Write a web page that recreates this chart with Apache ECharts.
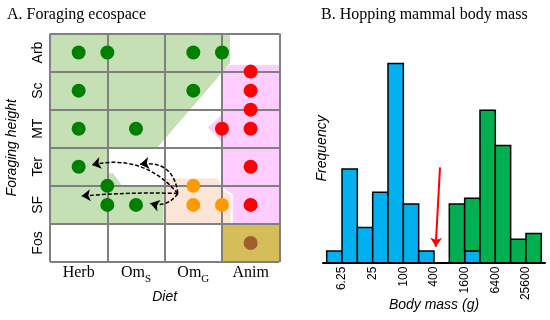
<!DOCTYPE html>
<html><head><meta charset="utf-8">
<script src="https://cdn.jsdelivr.net/npm/echarts@6/dist/echarts.min.js"></script>
<style>html,body{margin:0;padding:0;background:#fff}#c{width:550px;height:320px}</style>
</head><body><div id="c"></div>
<script>
// ---------- Panel A: foraging ecospace ----------
const dietLabels = ['{n|Herb}', '{n|Om}{s|S}', '{n|Om}{s|G}', '{n|Anim}'];
const heightLabels = ['Fos', 'SF', 'Ter', 'MT', 'Sc', 'Arb'];
const greenDots = [[0.5,5.5],[1.0,5.5],[2.5,5.5],[3.0,5.5],[0.5,4.5],[2.5,4.5],[0.5,3.5],[1.5,3.5],[0.5,2.5],[1.0,2.0],[1.0,1.5],[1.5,1.5]];
const redDots = [[3.5,5.0],[3.5,4.5],[3.5,4.0],[3.0,3.5],[3.5,3.5],[3.5,2.5],[3.5,1.5]];
const orangeDots = [[2.5,2.0],[2.5,1.5],[3.0,1.5]];
const brownDots = [[3.5,0.5]];
const greenZone = [[0,6],[3.14,6],[3.14,5.22],[1.87,3.0],[1.0,3.0],[1.0,2.33],[1.10,2.33],[1.26,2.0],[2.0,2.0],[2.0,1.0],[0,1.0]];
const pinkZone = [[3.14,5.17],[4,5.17],[4,1.0],[3.0,1.0],[3.0,3.16],[2.76,3.53],[3.0,3.87],[3.0,5.0]];
const peachZone = [[2.0,2.22],[2.94,2.22],[3.0,2.0],[3.0,1.94],[3.17,1.76],[3.17,1.0],[2.0,1.0]];
const fossZone = [[3,1],[4,1],[4,0],[3,0]];
const arrowStart = [2.23, 1.80];
const arrowEnds = [[0.73,2.55],[1.57,2.57],[0.55,1.73],[1.75,1.54]];
const arrowCurve = [-0.3, -0.5, -0.03, 0.35];

// ---------- Panel B: hopping mammal body mass ----------
const binEdges = [3.125, 6.25, 12.5, 25, 50, 100, 200, 400, 800, 1600, 3200, 6400, 12800, 25600, 51200];
const blueCounts = [2, 16, 6, 12, 34, 10, 2, 0, 0, 2, 0, 0, 0, 0];
const greenCounts = [0, 0, 0, 0, 0, 0, 0, 0, 10, 9, 26, 20, 4, 5];
const tickValues = [6.25, 25, 100, 400, 1600, 6400, 25600];
const tickLabels = ['6.25', '25', '100', '400', '1600', '6400', '25600'];
const redArrow = [[9.035, 16.27], [8.754, 2.73]];

const SANS = 'Liberation Sans', SERIF = 'Liberation Serif';
const GRIDLINE = '#808080';

function zoneSeries(points, fill, stroke) {
  return {
    type: 'custom', xAxisIndex: 0, yAxisIndex: 0, z: 1, silent: true,
    data: points,
    renderItem: function (params, api) {
      if (params.dataIndex !== 0) return;
      const pts = points.map(p => api.coord(p));
      return { type: 'polygon', shape: { points: pts },
        style: { fill: fill, stroke: stroke || 'none', lineWidth: stroke ? 2 : 0 } };
    }
  };
}

const blueData = [], greenData = [];
for (let i = 0; i < blueCounts.length; i++) {
  const a = Math.log2(binEdges[i]), b = Math.log2(binEdges[i + 1]);
  blueData.push([a, b, 0, blueCounts[i]]);
  greenData.push([a, b, blueCounts[i], blueCounts[i] + greenCounts[i]]);
}
function barSeries(data, fill) {
  return {
    type: 'custom', xAxisIndex: 1, yAxisIndex: 1, z: 3, silent: true,
    data: data,
    renderItem: function (params, api) {
      const base = api.value(2), top = api.value(3);
      if (top <= base) return;
      const p0 = api.coord([api.value(0), top]);
      const p1 = api.coord([api.value(1), base]);
      return { type: 'rect', shape: { x: p0[0], y: p0[1], width: p1[0] - p0[0], height: p1[1] - p0[1] },
        style: { fill: fill, stroke: '#000', lineWidth: 1.5 } };
    }
  };
}

const chart = echarts.init(document.getElementById('c'), null, { renderer: 'canvas' });
chart.setOption({
  animation: false,
  backgroundColor: '#fff',
  title: [
    { text: 'A. Foraging ecospace', left: 7, top: 7, padding: 0,
      textStyle: { fontFamily: SERIF, fontSize: 16, fontWeight: 'normal', color: '#000' } },
    { text: 'B. Hopping mammal body mass', left: 321, top: 7, padding: 0,
      textStyle: { fontFamily: SERIF, fontSize: 16, fontWeight: 'normal', color: '#000' } }
  ],
  grid: [
    { left: 50, top: 33.5, width: 229.3, height: 228.5, outerBoundsMode: 'none' },
    { left: 323, top: 51.7, width: 222, height: 211, outerBoundsMode: 'none' }
  ],
  xAxis: [
    { type: 'value', gridIndex: 0, min: 0, max: 4, interval: 1, z: 3,
      axisLine: { show: false }, axisTick: { show: false },
      splitLine: { show: true, showMinLine: true, showMaxLine: true, lineStyle: { color: GRIDLINE, width: 2 } },
      axisLabel: { customValues: [0.5, 1.5, 2.5, 3.5], margin: 3,
        formatter: v => dietLabels[Math.floor(v)],
        rich: {
          n: { fontFamily: SERIF, fontSize: 16, color: '#000', lineHeight: 20, verticalAlign: 'top' },
          s: { fontFamily: SERIF, fontSize: 11, color: '#000', lineHeight: 11, verticalAlign: 'bottom' }
        } },
      name: 'Diet', nameLocation: 'middle', nameGap: 27,
      nameTextStyle: { fontFamily: SANS, fontStyle: 'italic', fontSize: 14, color: '#000' } },
    { type: 'value', gridIndex: 1, min: 1.403, max: 15.885, z: 3,
      axisLine: { show: true, lineStyle: { color: '#000', width: 2 } },
      axisTick: { show: false }, splitLine: { show: false },
      axisLabel: { customValues: tickValues.map(v => Math.log2(v)), rotate: 90, margin: 4,
        fontFamily: SANS, fontSize: 12, color: '#000',
        formatter: v => tickLabels[tickValues.findIndex(t => Math.abs(Math.log2(t) - v) < 1e-6)] },
      name: 'Body mass (g)', nameLocation: 'middle', nameGap: 35, nameMoveOverlap: false,
      nameTextStyle: { fontFamily: SANS, fontStyle: 'italic', fontSize: 14, color: '#000' } }
  ],
  yAxis: [
    { type: 'value', gridIndex: 0, min: 0, max: 6, interval: 1, z: 3,
      axisLine: { show: false }, axisTick: { show: false },
      splitLine: { show: true, showMinLine: true, showMaxLine: true, lineStyle: { color: GRIDLINE, width: 2 } },
      axisLabel: { customValues: [0.5, 1.5, 2.5, 3.5, 4.5, 5.5], rotate: 90, margin: 5,
        fontFamily: SANS, fontSize: 14, color: '#000',
        formatter: v => heightLabels[Math.floor(v)] },
      name: 'Foraging height', nameLocation: 'middle', nameGap: 31,
      nameTextStyle: { fontFamily: SANS, fontStyle: 'italic', fontSize: 14, color: '#000' } },
    { type: 'value', gridIndex: 1, min: 0, max: 36, show: false }
  ],
  graphic: [
    { type: 'text', x: 321.7, y: 148.4, rotation: Math.PI / 2,
      style: { text: 'Frequency', fontFamily: SANS, fontStyle: 'italic', fontSize: 14, fill: '#000',
        align: 'center', verticalAlign: 'middle' } }
  ],
  series: [
    zoneSeries(greenZone, '#C5E0B4'),
    zoneSeries(pinkZone, '#FFCCFF'),
    zoneSeries(peachZone, '#FBE5D6', '#FFFFFF'),
    zoneSeries(fossZone, '#D5BD5A'),
    { type: 'scatter', xAxisIndex: 0, yAxisIndex: 0, z: 5, symbolSize: 14, data: greenDots, itemStyle: { color: '#008000', opacity: 1 } },
    { type: 'scatter', xAxisIndex: 0, yAxisIndex: 0, z: 5, symbolSize: 14, data: redDots, itemStyle: { color: '#FF0000', opacity: 1 } },
    { type: 'scatter', xAxisIndex: 0, yAxisIndex: 0, z: 5, symbolSize: 14, data: orangeDots, itemStyle: { color: '#FF9900', opacity: 1 } },
    { type: 'scatter', xAxisIndex: 0, yAxisIndex: 0, z: 5, symbolSize: 14, data: brownDots, itemStyle: { color: '#9E5F2C', opacity: 1 } },
    { type: 'lines', coordinateSystem: 'cartesian2d', xAxisIndex: 0, yAxisIndex: 0, z: 6, silent: true,
      symbol: ['none', 'arrow'], symbolSize: 9,
      lineStyle: { color: '#000', width: 1.5, type: [4, 2], opacity: 1 },
      data: arrowEnds.map((e, i) => ({ coords: [arrowStart, e], lineStyle: { curveness: arrowCurve[i] } })) },
    barSeries(blueData, '#00B0F0'),
    barSeries(greenData, '#00B050'),
    { type: 'lines', coordinateSystem: 'cartesian2d', xAxisIndex: 1, yAxisIndex: 1, z: 6, silent: true,
      symbol: ['none', 'arrow'], symbolSize: 9,
      lineStyle: { color: '#FF0000', width: 2, opacity: 1 },
      data: [{ coords: redArrow }] }
  ]
});
</script></body></html>
